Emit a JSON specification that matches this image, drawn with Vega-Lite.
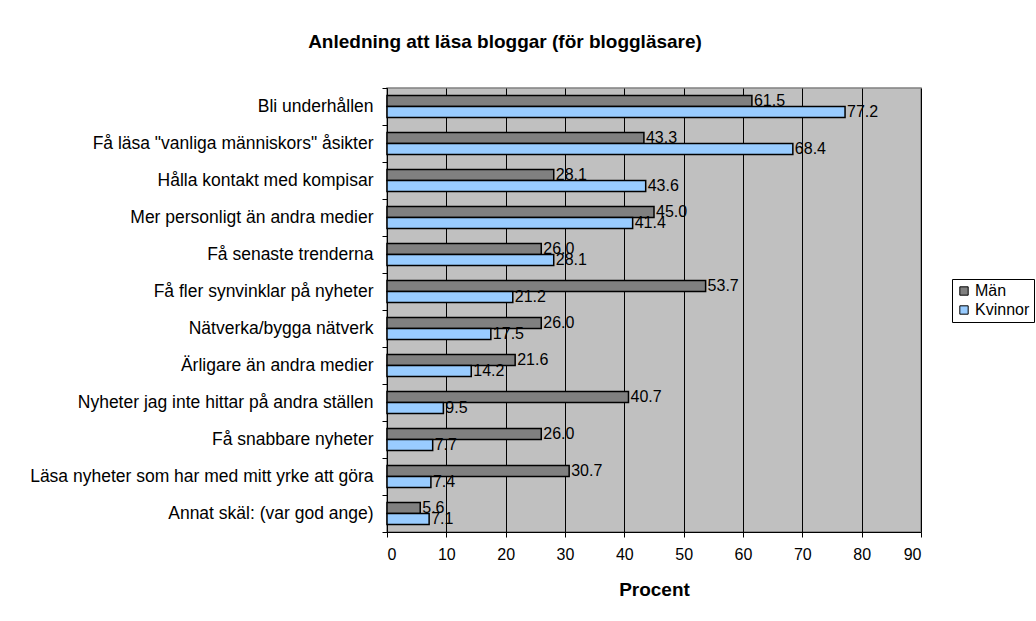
{
  "$schema": "https://vega.github.io/schema/vega-lite/v6.json",
  "autosize": {"type": "none"},
  "width": 534,
  "height": 444,
  "padding": {"left": 387, "top": 88, "right": 115, "bottom": 89},
  "background": "white",
  "title": {
    "text": "Anledning att läsa bloggar (för bloggläsare)",
    "font": "Liberation Sans",
    "fontSize": 19,
    "fontWeight": "bold",
    "color": "black",
    "anchor": "middle",
    "dx": -149,
    "offset": 27
  },
  "data": {
    "values": [
      {"skal": "Bli underhållen", "kon": "Män", "procent": 61.5},
      {"skal": "Bli underhållen", "kon": "Kvinnor", "procent": 77.2},
      {"skal": "Få läsa \"vanliga människors\" åsikter", "kon": "Män", "procent": 43.3},
      {"skal": "Få läsa \"vanliga människors\" åsikter", "kon": "Kvinnor", "procent": 68.4},
      {"skal": "Hålla kontakt med kompisar", "kon": "Män", "procent": 28.1},
      {"skal": "Hålla kontakt med kompisar", "kon": "Kvinnor", "procent": 43.6},
      {"skal": "Mer personligt än andra medier", "kon": "Män", "procent": 45.0},
      {"skal": "Mer personligt än andra medier", "kon": "Kvinnor", "procent": 41.4},
      {"skal": "Få senaste trenderna", "kon": "Män", "procent": 26.0},
      {"skal": "Få senaste trenderna", "kon": "Kvinnor", "procent": 28.1},
      {"skal": "Få fler synvinklar på nyheter", "kon": "Män", "procent": 53.7},
      {"skal": "Få fler synvinklar på nyheter", "kon": "Kvinnor", "procent": 21.2},
      {"skal": "Nätverka/bygga nätverk", "kon": "Män", "procent": 26.0},
      {"skal": "Nätverka/bygga nätverk", "kon": "Kvinnor", "procent": 17.5},
      {"skal": "Ärligare än andra medier", "kon": "Män", "procent": 21.6},
      {"skal": "Ärligare än andra medier", "kon": "Kvinnor", "procent": 14.2},
      {"skal": "Nyheter jag inte hittar på andra ställen", "kon": "Män", "procent": 40.7},
      {"skal": "Nyheter jag inte hittar på andra ställen", "kon": "Kvinnor", "procent": 9.5},
      {"skal": "Få snabbare nyheter", "kon": "Män", "procent": 26.0},
      {"skal": "Få snabbare nyheter", "kon": "Kvinnor", "procent": 7.7},
      {"skal": "Läsa nyheter som har med mitt yrke att göra", "kon": "Män", "procent": 30.7},
      {"skal": "Läsa nyheter som har med mitt yrke att göra", "kon": "Kvinnor", "procent": 7.4},
      {"skal": "Annat skäl: (var god ange)", "kon": "Män", "procent": 5.6},
      {"skal": "Annat skäl: (var god ange)", "kon": "Kvinnor", "procent": 7.1}
    ]
  },
  "encoding": {
    "y": {
      "field": "skal",
      "type": "nominal",
      "sort": null,
      "scale": {"paddingInner": 0, "paddingOuter": 0},
      "axis": {
        "title": null,
        "tickBand": "extent",
        "tickSize": 5,
        "tickColor": "black",
        "domainColor": "black",
        "labelFont": "Liberation Sans",
        "labelFontSize": 17.5,
        "labelColor": "black",
        "labelPadding": 9,
        "labelLimit": 400,
        "grid": false
      }
    },
    "yOffset": {
      "field": "kon",
      "type": "nominal",
      "sort": ["Män", "Kvinnor"],
      "scale": {"domain": ["Män", "Kvinnor"], "paddingInner": 0, "paddingOuter": 0.68}
    },
    "x": {
      "field": "procent",
      "type": "quantitative",
      "scale": {"domain": [0, 90], "nice": false},
      "axis": {
        "title": "Procent",
        "titleFont": "Liberation Sans",
        "titleFontSize": 19,
        "titleFontWeight": "bold",
        "titleColor": "black",
        "titlePadding": 18,
        "values": [0, 10, 20, 30, 40, 50, 60, 70, 80, 90],
        "tickSize": 5,
        "tickColor": "black",
        "domainColor": "black",
        "labelFont": "Liberation Sans",
        "labelFontSize": 16,
        "labelColor": "black",
        "labelPadding": 9,
        "grid": true,
        "gridColor": "black",
        "gridOpacity": 1,
        "gridWidth": 1
      }
    }
  },
  "layer": [
    {
      "mark": {"type": "bar", "stroke": "black", "strokeWidth": 1.5},
      "encoding": {
        "color": {
          "field": "kon",
          "type": "nominal",
          "scale": {"domain": ["Män", "Kvinnor"], "range": ["#808080", "#99CCFF"]},
          "legend": {
            "title": null,
            "orient": "none",
            "legendX": 565,
            "legendY": 191,
            "direction": "vertical",
            "fillColor": "white",
            "strokeColor": "black",
            "padding": 4,
            "symbolType": "square",
            "symbolSize": 70,
            "symbolStrokeColor": "black",
            "symbolStrokeWidth": 1,
            "symbolOpacity": 1,
            "labelFont": "Liberation Sans",
            "labelFontSize": 16,
            "labelColor": "black",
            "rowPadding": 3,
            "labelOffset": 3
          }
        }
      }
    },
    {
      "mark": {
        "type": "text",
        "align": "left",
        "baseline": "middle",
        "dx": 2,
        "font": "Liberation Sans",
        "fontSize": 16,
        "color": "black"
      },
      "encoding": {
        "text": {"field": "procent", "type": "quantitative", "format": ".1f"}
      }
    }
  ],
  "config": {
    "view": {"fill": "#C0C0C0", "stroke": "#808080", "strokeWidth": 1.5}
  }
}
